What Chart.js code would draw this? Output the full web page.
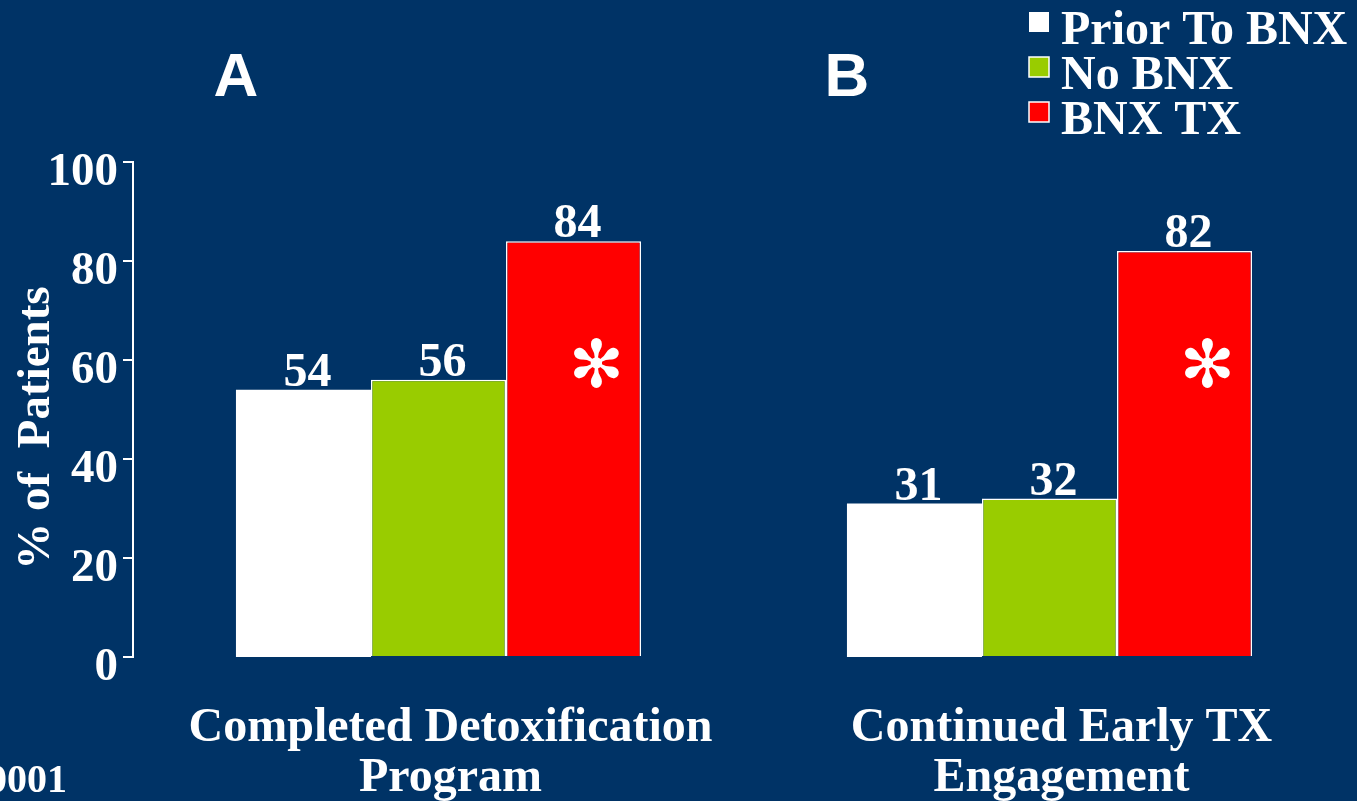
<!DOCTYPE html>
<html lang="en">
<head>
    <meta charset="UTF-8">
    <title>BNX outcomes</title>
    <script src="https://cdn.jsdelivr.net/npm/chart.js"></script>
    <style>
        html, body {
            margin: 0;
            padding: 0;
            background: #003366;
        }
        .grafico {
            width: 1357px;
            height: 801px;
            position: relative;
        }
    </style>
</head>
<body>

<div class="grafico">
    <canvas id="bnxChart"></canvas>
</div>

<script>
    // dados do gráfico
    const categorias = [
        ['Completed Detoxification', 'Program'],
        ['Continued Early TX', 'Engagement']
    ];
    const paineis = ['A', 'B'];
    const series = ['Prior To BNX', 'No BNX', 'BNX TX'];
    const priorToBnx = [54, 31];
    const noBnx = [56, 32];
    const bnxTx = [84, 82];
    const significativo = [false, false, true];
    const yTicks = [0, 20, 40, 60, 80, 100];
    const notaRodape = '*p < 0.0001';

    const FUNDO = '#003366';
    const SERIF = '"Liberation Serif", "Times New Roman", serif';
    const SANS = '"Liberation Sans", Arial, sans-serif';

    const extras = {
        id: 'extras',
        beforeDraw(chart) {
            const c = chart.ctx;
            c.save();
            c.fillStyle = FUNDO;
            c.fillRect(0, 0, chart.width, chart.height);
            c.restore();
        },
        afterDraw(chart) {
            const c = chart.ctx;
            const y = chart.scales.y;
            c.save();
            c.fillStyle = '#ffffff';

            // valores em cima das barras + asterisco
            chart.data.datasets.forEach((ds, i) => {
                const meta = chart.getDatasetMeta(i);
                meta.data.forEach((bar, j) => {
                    c.font = 'bold 48px ' + SERIF;
                    c.textAlign = 'center';
                    c.textBaseline = 'alphabetic';
                    c.fillText(ds.data[j], bar.x + 4, bar.y - 4);
                    if (significativo[i]) {
                        c.font = '66px "DejaVu Sans", sans-serif';
                        c.textBaseline = 'middle';
                        c.fillText('\u273B', bar.x + bar.width * 0.17, y.getPixelForValue(58));
                    }
                });
            });

            // letras A / B
            const primeiro = chart.getDatasetMeta(0);
            c.font = 'bold 62px ' + SANS;
            c.textAlign = 'center';
            c.textBaseline = 'alphabetic';
            primeiro.data.forEach((bar, j) => {
                c.fillText(paineis[j], bar.x - bar.width / 2, 96);
            });

            // legenda
            c.font = 'bold 48px ' + SERIF;
            c.textAlign = 'left';
            chart.data.datasets.forEach((ds, i) => {
                const base = 44 + i * 45;
                c.fillStyle = ds.backgroundColor;
                c.fillRect(1029, base - 32, 20, 20);
                if (i > 0) {
                    c.strokeStyle = '#ffffff';
                    c.lineWidth = 1.5;
                    c.strokeRect(1029, base - 32, 20, 20);
                }
                c.fillStyle = '#ffffff';
                c.fillText(ds.label, 1061, base);
            });

            // titulo do eixo y
            c.save();
            c.translate(37, 428);
            c.rotate(-Math.PI / 2);
            c.font = 'bold 47px ' + SERIF;
            c.textAlign = 'center';
            c.textBaseline = 'middle';
            c.fillText('% of  Patients', 0, 0);
            c.restore();

            // nota de rodapé (cortada à esquerda)
            c.font = 'bold 40px ' + SERIF;
            c.textAlign = 'right';
            c.textBaseline = 'alphabetic';
            c.fillText(notaRodape, 67, 792);

            c.restore();
        }
    };

    const ctx = document.getElementById('bnxChart').getContext('2d');
    new Chart(ctx, {
        type: 'bar',
        data: {
            labels: categorias,
            datasets: [
                {
                    label: series[0],
                    data: priorToBnx,
                    backgroundColor: '#ffffff',
                    borderWidth: 0,
                    base: -0.8
                },
                {
                    label: series[1],
                    data: noBnx,
                    backgroundColor: '#99cc00',
                    borderColor: '#ffffff',
                    borderWidth: 1.5
                },
                {
                    label: series[2],
                    data: bnxTx,
                    backgroundColor: '#ff0000',
                    borderColor: '#ffffff',
                    borderWidth: 1.5
                }
            ]
        },
        options: {
            responsive: true,
            maintainAspectRatio: false,
            animation: false,
            categoryPercentage: 0.663,
            barPercentage: 1,
            layout: {
                padding: { top: 162, right: 2, left: 0, bottom: 0 }
            },
            scales: {
                x: {
                    afterFit: (s) => { s.height = 144; },
                    grid: { display: false, drawTicks: false },
                    border: { display: false },
                    ticks: {
                        color: '#ffffff',
                        padding: 47,
                        labelOffset: 12,
                        maxRotation: 0,
                        font: { family: SERIF, size: 48, weight: 'bold', lineHeight: '50px' }
                    }
                },
                y: {
                    min: 0,
                    max: 100,
                    afterFit: (s) => { s.width = 133; },
                    afterBuildTicks: (s) => { s.ticks = yTicks.map(v => ({ value: v })); },
                    grid: {
                        drawOnChartArea: false,
                        drawTicks: true,
                        tickLength: 10,
                        color: '#ffffff',
                        lineWidth: 2
                    },
                    border: { display: true, color: '#ffffff', width: 2 },
                    ticks: {
                        color: '#ffffff',
                        padding: 5,
                        labelOffset: 11,
                        font: { family: SERIF, size: 47, weight: 'bold' }
                    }
                }
            },
            plugins: {
                legend: { display: false },
                tooltip: { enabled: false }
            }
        },
        plugins: [extras]
    });
</script>

</body>
</html>
